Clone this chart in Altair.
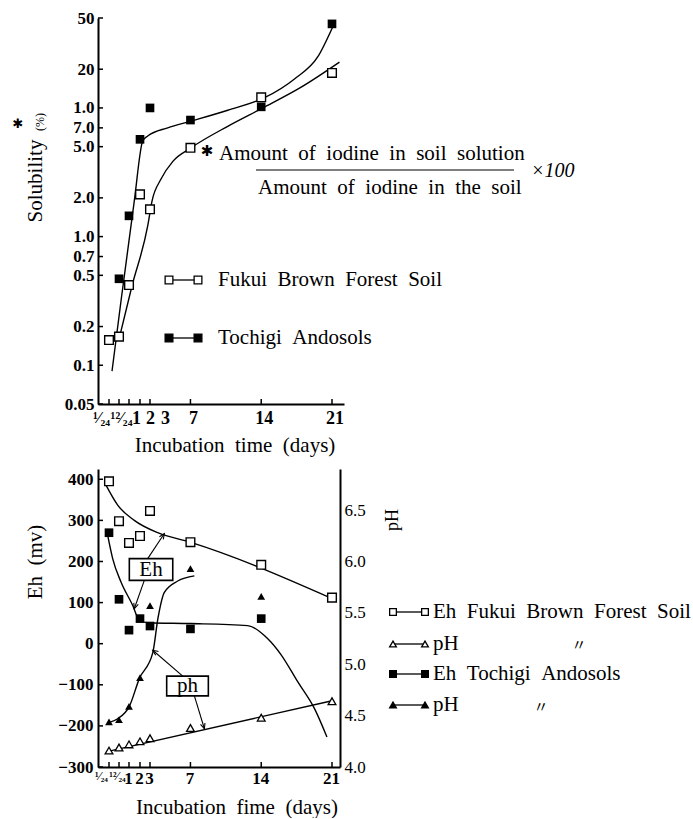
import altair as alt
import pandas as pd

# ---------------- data ----------------
X_TICKS = [1/24, 12/24, 1, 2, 3, 7, 14, 21]
X_TICK_LABELS = ["¹⁄₂₄", "¹²⁄₂₄", "1", "2", "3", "7", "14", "21"]

# top panel: solubility (%)
SOL_FUKUI_DAYS = [1/24, 12/24, 1, 2, 3, 7, 14, 21]
SOL_FUKUI = [0.157, 0.167, 0.42, 2.13, 1.63, 4.9, 12.1, 18.7]
SOL_TOCHIGI_DAYS = [12/24, 1, 2, 3, 7, 14, 21]
SOL_TOCHIGI = [0.47, 1.45, 5.7, 10.0, 8.05, 10.2, 45.0]
SOL_FUKUI_CURVE_DAYS = [0.52, 1.27, 2.77, 3.2, 4.09, 5.28, 7.06, 10.69, 14.16, 17.95, 21.74]
SOL_FUKUI_CURVE = [0.164, 0.413, 1.21, 1.89, 2.80, 3.86, 4.90, 7.2, 10.0, 14.5, 22.7]
SOL_TOCHIGI_CURVE_DAYS = [0.18, 0.6, 1.48, 2.27, 2.77, 4.75, 7.06, 10.69, 14.32, 17.29, 19.6, 21.09]
SOL_TOCHIGI_CURVE = [0.090, 0.316, 1.89, 5.53, 6.05, 7.01, 7.9, 9.6, 12.0, 16.8, 25.0, 43.0]
SOL_TICKS = [0.05, 0.1, 0.2, 0.5, 0.7, 1.0, 2.0, 5.0, 7.0, 10.0, 20.0, 50.0]
SOL_TICK_LABELS = ["0.05", "0.1", "0.2", "0.5", "0.7", "1.0", "2.0", "5.0", "7.0", "1.0", "20", "50"]

# bottom panel: Eh (mV) and pH
FUKUI_DAYS = [1/24, 12/24, 1, 2, 3, 7, 14, 21]
EH_FUKUI = [395, 298, 245, 262, 323, 247, 192, 112]
PH_FUKUI = [4.16, 4.19, 4.22, 4.25, 4.28, 4.38, 4.48, 4.64]
TOCHIGI_DAYS = [1/24, 12/24, 1, 2, 3, 7, 14]
EH_TOCHIGI = [270, 108, 33, 61, 43, 36, 61]
PH_TOCHIGI = [4.44, 4.46, 4.59, 4.87, 5.57, 5.93, 5.66]
EH_FUKUI_CURVE_DAYS = [-0.09, 0.44, 1.48, 3.76, 6.96, 20.9]
EH_FUKUI_CURVE = [385, 337, 300, 270, 247, 111]
EH_TOCHIGI_CURVE_DAYS = [-0.02, 0.21, 0.6, 1.34, 1.94, 2.77, 7.06, 12.67, 14.65, 15.97, 17.62, 19.27, 20.5]
EH_TOCHIGI_CURVE = [264, 207, 150, 93, 57, 51, 49, 44, 12, -27, -93, -158, -227]
PH_TOCHIGI_CURVE_DAYS = [0.0, 0.44, 1.03, 1.94, 3.27, 3.79, 4.42, 5.74, 7.39]
PH_TOCHIGI_CURVE = [4.43, 4.47, 4.59, 4.86, 5.11, 5.45, 5.70, 5.81, 5.86]
PH_FUKUI_LINE_DAYS = [-0.05, 20.8]
PH_FUKUI_LINE = [4.15, 4.64]
EH_TICKS = [-300, -200, -100, 0, 100, 200, 300, 400]
PH_TICKS = [4.0, 4.5, 5.0, 5.5, 6.0, 6.5]

# annotation boxes (in days / Eh units)
BOX_LABELS = ["Eh", "ph"]
BOX_DAY1 = [1.03, 4.65]
BOX_DAY2 = [5.25, 8.77]
BOX_EH1 = [154, -127]
BOX_EH2 = [207, -79]
BOX_TEXT_DAY = [3.1, 6.7]
BOX_TEXT_EH = [180, -103]
ARROW_DAY1 = [2.77, 2.43, 6.24, 7.39]
ARROW_EH1 = [207, 154, -79, -127]
ARROW_DAY2 = [4.42, 1.48, 3.27, 8.38]
ARROW_EH2 = [268, 85, -16, -207]
ARROW_ANGLE = [34, 199, 306, 162]

# ---------------- helpers ----------------
SERIF = "Liberation Serif"
W1, H1 = 246, 386
W2, H2 = 242, 298
one = pd.DataFrame({"k": [0]})


def xscale(W):
    slope = (234 - 52) / 18.0
    end = 21 + (W - 234) / slope
    return alt.Scale(domain=[-0.46, 1/24, 0.5, 1, 2, 3, 21, end],
                     range=[0, 11, 21, 31, 42, 52, 234, W], nice=False, zero=False)


def label_expr(values, labels):
    parts = [f"abs(datum.value - ({v!r})) < 1e-6 ? '{l}'" for v, l in zip(values, labels)]
    return " : ".join(parts) + " : ''"


def xaxis(offset_expr, size_expr, pad):
    return alt.Axis(values=X_TICKS, labelExpr=label_expr(X_TICKS, X_TICK_LABELS),
                    labelOffset={"expr": offset_expr}, labelFontSize={"expr": size_expr},
                    labelPadding=pad, title=None,
                    labelFont=SERIF, labelFontWeight="bold",
                    labelOverlap=False, labelFlush=False, ticks=False, grid=False,
                    domainColor="black", domainWidth=2)


def text(x, y, s, size=21, align="center", angle=0, weight="normal", style="normal", font=SERIF):
    kw = dict(align=align, baseline="middle", font=font, fontSize=size, color="black",
              fontWeight=weight, fontStyle=style)
    if angle:
        kw["angle"] = angle
    return alt.Chart(one).mark_text(**kw).encode(x=alt.value(x), y=alt.value(y), text=alt.value(s))


def legend_item(x1, x2, y, tx, s, shape, filled, size):
    out = [alt.Chart(one).mark_rule(color="black", strokeWidth=1.3).encode(
        x=alt.value(x1), x2=alt.value(x2), y=alt.value(y))]
    for xx in (x1, x2):
        out.append(alt.Chart(one).mark_point(shape=shape, filled=True, fill="black" if filled else "white",
                                             stroke="black", strokeWidth=1.3, size=size, opacity=1).encode(
            x=alt.value(xx), y=alt.value(y)))
    out.append(text(tx, y, s, align="left"))
    return out


def guard(x, y):
    return alt.Chart(one).mark_rule(color="white", strokeWidth=1).encode(
        x=alt.value(x), x2=alt.value(x + 1), y=alt.value(y))


# ---------------- top panel ----------------
top_yaxis = alt.Axis(values=SOL_TICKS, labelExpr=label_expr(SOL_TICKS, SOL_TICK_LABELS), title=None,
                     labelFont=SERIF, labelFontSize=17, labelFontWeight="bold", labelPadding=4,
                     labelOverlap=False, labelFlush=False, ticks=False, grid=False,
                     domainColor="black", domainWidth=2)
top_xaxis = xaxis("datum.value < 0.1 ? -8 : datum.value < 0.6 ? 2 : datum.value < 1.5 ? 7 : "
                  "datum.value < 2.5 ? 10 : datum.value < 3.5 ? 15 : 2.5", "datum.value < 0.6 ? 16 : 18", 5)

XT = lambda: alt.X("day:Q", scale=xscale(W1), axis=top_xaxis)
YT = lambda: alt.Y("v:Q", scale=alt.Scale(type="log", domain=[0.05, 50], nice=False), axis=top_yaxis)

top_layers = [
    alt.Chart(pd.DataFrame({"v": SOL_TICKS})).mark_rule(color="black", strokeWidth=1.5).encode(
        y=YT(), x=alt.value(0), x2=alt.value(5)),
    alt.Chart(pd.DataFrame({"day": X_TICKS})).mark_rule(color="black", strokeWidth=1.5).encode(
        x=XT(), y=alt.value(H1), y2=alt.value(H1 - 5)),
    alt.Chart(pd.DataFrame({"day": SOL_FUKUI_CURVE_DAYS, "v": SOL_FUKUI_CURVE})).mark_line(
        color="black", strokeWidth=1.4, interpolate="monotone").encode(x=XT(), y=YT()),
    alt.Chart(pd.DataFrame({"day": SOL_TOCHIGI_CURVE_DAYS, "v": SOL_TOCHIGI_CURVE})).mark_line(
        color="black", strokeWidth=1.4, interpolate="monotone").encode(x=XT(), y=YT()),
    alt.Chart(pd.DataFrame({"day": SOL_FUKUI_DAYS, "v": SOL_FUKUI})).mark_point(
        shape="square", filled=True, fill="white", stroke="black", strokeWidth=1.4, size=75, opacity=1).encode(
        x=XT(), y=YT()),
    alt.Chart(pd.DataFrame({"day": SOL_TOCHIGI_DAYS, "v": SOL_TOCHIGI})).mark_point(
        shape="square", filled=True, color="black", size=75, opacity=1).encode(x=XT(), y=YT()),
]
top_layers += legend_item(71, 100, 262, 120, "Fukui\u2002Brown\u2002Forest\u2002Soil", "square", False, 60)
top_layers += legend_item(71, 100, 320, 120, "Tochigi\u2002Andosols", "square", True, 60)
top_layers += [
    text(109, 133, "✱", size=15, font="DejaVu Sans"),
    text(121, 136, "Amount\u2002of\u2002iodine\u2002in\u2002soil\u2002solution", align="left"),
    alt.Chart(one).mark_rule(color="black", strokeWidth=1.2).encode(
        x=alt.value(158), x2=alt.value(416), y=alt.value(152)),
    text(160, 170, "Amount\u2002of\u2002iodine\u2002in\u2002the\u2002soil", align="left"),
    text(433, 153, "×100", size=20, align="left", style="italic"),
    text(-62, 163, "Solubility", angle=270),
    text(-58, 104, "(%)", size=12, angle=270),
    text(-80, 106, "✱", size=13, font="DejaVu Sans"),
    text(137, 428, "Incubation\u2002time\u2002(days)"),
    guard(-97, -17),
    guard(-97, 446),
]
top = alt.layer(*top_layers).properties(width=W1, height=H1)

# ---------------- bottom panel ----------------
eh_axis = alt.Axis(values=EH_TICKS, format="d", title=None, labelFont=SERIF, labelFontSize=17,
                   labelFontWeight="bold", labelPadding=5, labelOverlap=False, labelFlush=False,
                   ticks=False, grid=False, domainColor="black", domainWidth=2)
ph_axis = alt.Axis(values=PH_TICKS, format=".1f", orient="right", title=None, labelFont=SERIF,
                   labelFontSize=17, labelPadding=4, labelOverlap=False, labelFlush=False,
                   ticks=False, grid=False, domainColor="black", domainWidth=2)
bot_xaxis = xaxis("datum.value < 0.1 ? -8 : datum.value < 0.6 ? -2 : -1", "datum.value < 0.6 ? 12 : 17", 3)

EH_SCALE = alt.Scale(domain=[-300, 425], nice=False, zero=False)
XB = lambda f="day:Q": alt.X(f, scale=xscale(W2), axis=bot_xaxis)
YE = lambda f="eh:Q": alt.Y(f, scale=EH_SCALE, axis=eh_axis)
YP = lambda: alt.Y("ph:Q", scale=alt.Scale(domain=[4.0, 6.9], nice=False, zero=False), axis=ph_axis)

arrow_path = "M -0.7 1.6 L 0 0 L 0.7 1.6"
boxes = pd.DataFrame({"label": BOX_LABELS, "d1": BOX_DAY1, "d2": BOX_DAY2, "e1": BOX_EH1, "e2": BOX_EH2,
                      "day": BOX_TEXT_DAY, "eh": BOX_TEXT_EH})
arrows = pd.DataFrame({"day": ARROW_DAY1, "eh": ARROW_EH1, "d2": ARROW_DAY2, "e2": ARROW_EH2})

eh_layers = [
    alt.Chart(pd.DataFrame({"eh": EH_TICKS})).mark_rule(color="black", strokeWidth=1.5).encode(
        y=YE(), x=alt.value(0), x2=alt.value(5)),
    alt.Chart(pd.DataFrame({"day": X_TICKS})).mark_rule(color="black", strokeWidth=1.5).encode(
        x=XB(), y=alt.value(H2), y2=alt.value(H2 - 5)),
    alt.Chart(pd.DataFrame({"day": EH_FUKUI_CURVE_DAYS, "eh": EH_FUKUI_CURVE})).mark_line(
        color="black", strokeWidth=1.4, interpolate="monotone").encode(x=XB(), y=YE()),
    alt.Chart(pd.DataFrame({"day": EH_TOCHIGI_CURVE_DAYS, "eh": EH_TOCHIGI_CURVE})).mark_line(
        color="black", strokeWidth=1.4, interpolate="monotone").encode(x=XB(), y=YE()),
    alt.Chart(arrows).mark_rule(color="black", strokeWidth=1.1).encode(
        x=XB(), y=YE(), x2="d2:Q", y2="e2:Q"),
    alt.Chart(boxes).mark_rect(fill="white", stroke="black", strokeWidth=1.6).encode(
        x=XB("d1:Q"), x2="d2:Q", y=YE("e1:Q"), y2="e2:Q"),
    alt.Chart(boxes).mark_text(font=SERIF, fontSize=21, color="black", baseline="middle").encode(
        x=XB(), y=YE(), text="label:N"),
    alt.Chart(pd.DataFrame({"day": FUKUI_DAYS, "eh": EH_FUKUI})).mark_point(
        shape="square", filled=True, fill="white", stroke="black", strokeWidth=1.4, size=75, opacity=1).encode(
        x=XB(), y=YE()),
    alt.Chart(pd.DataFrame({"day": TOCHIGI_DAYS, "eh": EH_TOCHIGI})).mark_point(
        shape="square", filled=True, color="black", size=75, opacity=1).encode(x=XB(), y=YE()),
]
for i in range(len(ARROW_ANGLE)):
    eh_layers.append(
        alt.Chart(arrows.iloc[[i]][["d2", "e2"]].rename(columns={"d2": "day", "e2": "eh"})).mark_point(
            shape=arrow_path, filled=False, stroke="black", strokeWidth=1.1, size=45, opacity=1,
            angle=ARROW_ANGLE[i]).encode(x=XB(), y=YE()))

ph_layers = [
    alt.Chart(pd.DataFrame({"day": PH_TOCHIGI_CURVE_DAYS, "ph": PH_TOCHIGI_CURVE})).mark_line(
        color="black", strokeWidth=1.4, interpolate="monotone").encode(x=XB(), y=YP()),
    alt.Chart(pd.DataFrame({"day": PH_FUKUI_LINE_DAYS, "ph": PH_FUKUI_LINE})).mark_line(
        color="black", strokeWidth=1.4).encode(x=XB(), y=YP()),
    alt.Chart(pd.DataFrame({"day": FUKUI_DAYS, "ph": PH_FUKUI})).mark_point(
        shape="triangle-up", filled=True, fill="white", stroke="black", strokeWidth=1.3, size=60, opacity=1).encode(
        x=XB(), y=YP()),
    alt.Chart(pd.DataFrame({"day": TOCHIGI_DAYS, "ph": PH_TOCHIGI})).mark_point(
        shape="triangle-up", filled=True, color="black", size=60, opacity=1).encode(x=XB(), y=YP()),
]

deco = []
deco += legend_item(295, 327, 143, 335, "Eh\u2002Fukui\u2002Brown\u2002Forest\u2002Soil", "square", False, 45)
deco += legend_item(295, 327, 175, 335, "pH", "triangle-up", False, 45)
deco += legend_item(295, 327, 205, 335, "Eh\u2002Tochigi\u2002Andosols", "square", True, 45)
deco += legend_item(295, 327, 236, 335, "pH", "triangle-up", True, 45)
deco += [
    text(481, 176, "〃", size=15, font="Noto Sans CJK JP"),
    text(443, 238, "〃", size=15, font="Noto Sans CJK JP"),
    text(-62, 93, "Eh\u2002(mv)", angle=270),
    text(295, 51, "pH", size=18, angle=270),
    text(139, 339, "Incubation\u2002fime\u2002(days)"),
    guard(-97, 0),
]

bottom = alt.layer(alt.layer(*eh_layers, *deco), alt.layer(*ph_layers)).resolve_scale(
    y="independent").properties(width=W2, height=H2)

chart = alt.vconcat(top, bottom, spacing=3, padding=0).configure_view(strokeWidth=0).configure_axis(
    grid=False, ticks=False, domainColor="black", labelColor="black")

chart.save("out.html", embed_options={"renderer": "svg", "actions": False})
